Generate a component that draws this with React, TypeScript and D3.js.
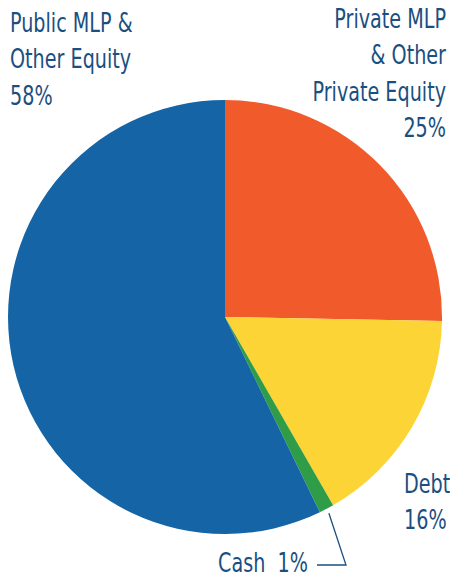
import React, {useEffect, useRef} from "react";
import * as d3 from "d3";

const categories = ["Private MLP & Other Private Equity", "Debt", "Cash", "Public MLP & Other Equity"];
// slice sizes as measured on the picture (the printed labels are rounded)
const values = [25.3, 16.4, 1.1, 57.2];
const labels = ["25%", "16%", "1%", "58%"];
const colors = ["#F15A2A", "#FCD435", "#2F9C48", "#1565A6"];

const width = 450;
const height = 577;
const textColor = "#1B4F80";
const fontFamily = "'DejaVu Sans Condensed', 'Liberation Sans Narrow', sans-serif";
const squeeze = 0.82;

const App: React.FC = () => {
    const svgRef = useRef<SVGSVGElement>(null);

    useEffect(() => {
        const svg = d3.select(svgRef.current);
        svg.selectAll("*").remove();

        const cx = 225, cy = 317, r = 217;
        const data = categories.map((c, i) => ({name: c, value: values[i], color: colors[i]}));

        const pie = d3.pie<typeof data[0]>().sort(null).value(d => d.value);
        const arc = d3.arc<d3.PieArcDatum<typeof data[0]>>().innerRadius(0).outerRadius(r);
        const arcs = pie(data);

        const g = svg.append("g").attr("transform", `translate(${cx},${cy})`);
        g.selectAll("path")
            .data(arcs)
            .join("path")
            .attr("d", arc)
            .attr("fill", d => d.data.color);

        // leader line for Cash
        const cash = arcs[2];
        const mid = (cash.startAngle + cash.endAngle) / 2;
        const p0 = [cx + Math.sin(mid) * (r + 5), cy - Math.cos(mid) * (r + 5)];
        svg.append("polyline")
            .attr("points", `${p0[0]},${p0[1]} 346,565 317,565`)
            .attr("fill", "none")
            .attr("stroke", textColor)
            .attr("stroke-width", 1.3);

        const label = (lines: string[], x: number, y0: number, anchor: string) => {
            const t = svg.append("text")
                .attr("transform", `translate(${x},0) scale(${squeeze},1)`)
                .attr("text-anchor", anchor)
                .attr("fill", textColor)
                .attr("font-family", fontFamily)
                .attr("font-size", 26);
            lines.forEach((l, i) => {
                t.append("tspan").attr("x", 0).attr("y", y0 + i * 36.5).text(l);
            });
        };

        label(["Public MLP &", "Other Equity", labels[3]], 10, 32, "start");
        label(["Private MLP", "& Other", "Private Equity", labels[0]], 446, 28, "end");
        label(["Debt", labels[1]], 404, 493, "start");
        label([`Cash\u00a0 ${labels[2]}`], 218, 572, "start");
    }, []);

    return <svg ref={svgRef} width={width} height={height}
                style={{position: "absolute", left: 0, top: 0}}></svg>;
};

export default App;
